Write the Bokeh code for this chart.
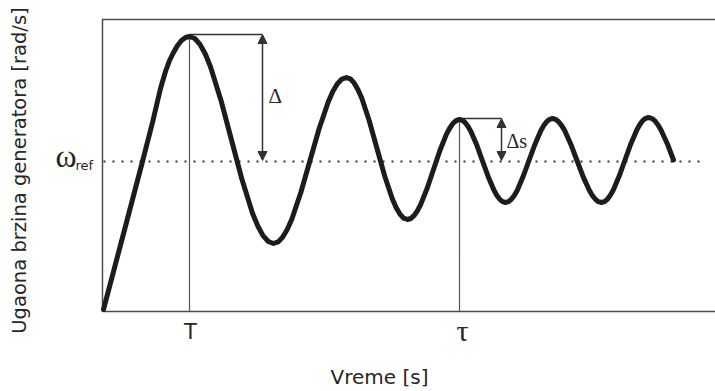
import math
from bokeh.plotting import figure
from bokeh.models import Range1d, Label, Arrow, NormalHead
from bokeh.embed import file_html
from bokeh.resources import INLINE

# ---- data ----
time = [1, 20, 40, 50, 54, 58, 63, 67, 71, 75, 79, 83, 87,
        92.3, 97.5, 102.8, 108, 118.5, 129, 139.5, 150, 155.3, 160.5, 165.8, 171,
        175.6, 180.1, 184.7, 189.3, 198.4, 207.5, 216.6, 225.8, 230.3, 234.9, 239.4, 244,
        247.8, 251.6, 255.4, 259.3, 266.9, 274.5, 282.1, 289.8, 293.6, 297.4, 301.2, 305,
        308.3, 311.5, 314.8, 318, 324.5, 331, 337.5, 344, 347.3, 350.5, 353.8, 357,
        359.9, 362.8, 365.6, 368.5, 374.3, 380, 385.8, 391.5, 394.4, 397.3, 400.1, 403,
        405.9, 408.9, 411.8, 414.8, 420.6, 426.5, 432.4, 438.3, 441.2, 444.1, 447.1, 450,
        453.1, 456.1, 459.2, 462.3, 468.4, 474.5, 480.6, 486.8, 489.8, 492.9, 495.9, 499,
        501.9, 504.9, 507.8, 510.8, 516.6, 522.5, 528.4, 534.3, 537.2, 540.1, 543.1, 546,
        549.1, 552.3, 555.4, 558.5, 564.8, 571]
speed = [2, 74, 150, 189, 206, 223, 240, 251, 259, 266, 271, 274, 275,
         273.0, 267.1, 257.5, 244.7, 211.1, 171.5, 131.9, 98.3, 85.5, 75.9, 70.0, 68,
         69.6, 74.3, 82.0, 92.3, 119.2, 151, 182.8, 209.7, 220.0, 227.7, 232.4, 234,
         232.7, 228.6, 222.0, 213.2, 190.2, 163, 135.8, 112.8, 104.0, 97.4, 93.3, 92,
         93.0, 95.8, 100.5, 106.6, 122.8, 142, 161.2, 177.4, 183.5, 188.2, 191.0, 192,
         191.2, 188.8, 185.0, 179.8, 166.4, 150.5, 134.6, 121.2, 116.0, 112.2, 109.8, 109,
         109.8, 112.2, 116.1, 121.3, 134.9, 151, 167.1, 180.7, 185.9, 189.8, 192.2, 193,
         192.2, 189.8, 185.9, 180.7, 167.1, 151, 134.9, 121.3, 116.1, 112.2, 109.8, 109,
         109.8, 112.2, 116.2, 121.5, 135.2, 151.5, 167.8, 181.5, 186.8, 190.8, 193.2, 194,
         193.2, 190.8, 186.8, 181.5, 167.8, 151.5]
omega_ref = 150
ref_line_end = 598
T_time = 87          # first peak
tau_time = 357       # settling peak
x_tick_labels = ["T", "\u03c4"]
y_title = "Ugaona brzina generatora [rad/s]"
x_title = "Vreme [s]"

# plot box extents (time / speed axes)
t_min, t_max = 0, 613
w_min, w_max = 0, 292

peak_T = speed[time.index(T_time)]
peak_tau = speed[time.index(tau_time)]

p = figure(width=715, height=391, output_backend="svg", toolbar_location=None,
           x_range=Range1d(t_min - 102, t_max), y_range=Range1d(w_min - 80, w_max + 19),
           x_axis_location=None, y_axis_location=None,
           min_border_left=0, min_border_right=0, min_border_top=0, min_border_bottom=0)
p.outline_line_color = None
p.background_fill_color = "white"
p.border_fill_color = "white"
p.xgrid.visible = False
p.ygrid.visible = False

# plot box (time axis, speed axis, top edge)
p.line([t_max, t_min, t_min, t_max], [w_max, w_max, w_min, w_min],
       line_color="#4d4d4d", line_width=1.5)

# reference speed (dotted)
p.line([time[0], ref_line_end], [omega_ref, omega_ref], line_color="#333333",
       line_width=2, line_dash="2 7")

# marker lines at T and tau
p.segment(x0=[T_time, tau_time], y0=[w_min, w_min], x1=[T_time, tau_time], y1=[peak_T, peak_tau],
          line_color="#555555", line_width=1.2)
dT = 73
dtau = 42
p.segment(x0=[T_time, tau_time], y0=[peak_T + 2, peak_tau + 1],
          x1=[T_time + dT, tau_time + dtau], y1=[peak_T + 2, peak_tau + 1],
          line_color="#333333", line_width=1.5)

# main curve
p.line(time, speed, line_color="#1c1c1c", line_width=5, line_join="round", line_cap="round")

# arrows
for xa, ytop in [(T_time + dT, peak_T + 2), (tau_time + dtau, peak_tau + 1)]:
    p.add_layout(Arrow(x_start=xa, y_start=omega_ref + 1, x_end=xa, y_end=ytop,
                       line_color="#333333", line_width=1.5,
                       start=NormalHead(size=9, fill_color="#333333", line_color="#333333"),
                       end=NormalHead(size=9, fill_color="#333333", line_color="#333333")))

def lab(x, y, text, font, size, align="left", angle=0.0, color="#262626"):
    shift = 0.34 * size
    if angle:
        x = x - shift
    else:
        y = y + shift
    p.add_layout(Label(x=x, y=y, text=text, text_font=font, text_font_size=f"{size}px",
                       text_align=align, text_baseline="alphabetic", angle=angle,
                       text_color=color))

lab(T_time + dT + 6, 208, "\u0394", "Liberation Serif", 21)
lab(tau_time + dtau + 5, 164, "\u0394s", "Liberation Serif", 20)
lab(-47, 144.5, "\u03c9", "Liberation Serif", 32)
lab(-27, 142, "ref", "DejaVu Sans", 13)
lab(T_time + 1, -28, x_tick_labels[0], "DejaVu Sans", 21, align="center")
lab(tau_time + 3, -29, x_tick_labels[1], "Liberation Serif", 30, align="center")
lab(277, -72, x_title, "DejaVu Sans", 20, align="center")
lab(-76.5, 141, y_title, "DejaVu Sans", 19.5, align="center", angle=math.pi / 2)

open("out.html", "w").write(file_html(p, INLINE))
